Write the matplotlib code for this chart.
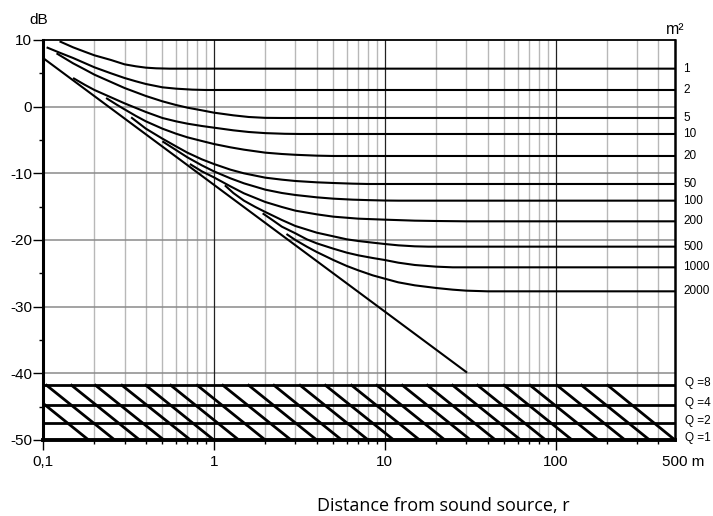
import matplotlib
matplotlib.use('Agg')
import matplotlib.pyplot as plt
from matplotlib.ticker import FixedLocator, NullFormatter

plt.rcParams['font.family'] = ['Liberation Sans', 'DejaVu Sans']
plt.rcParams['axes.unicode_minus'] = False

# room constant curves (m2): distance r in m, level in dB
r_1 = [0.125, 0.15, 0.175, 0.2, 0.25, 0.3, 0.35, 0.4, 0.46, 0.55, 500]
db_1 = [9.8, 8.9, 8.25, 7.7, 7.0, 6.35, 6.05, 5.85, 5.75, 5.7, 5.7]
r_2 = [0.105, 0.125, 0.15, 0.175, 0.2, 0.25, 0.3, 0.35, 0.4, 0.5, 0.6, 0.75, 0.9, 500]
db_2 = [8.9, 8.1, 7.3, 6.55, 5.9, 5.0, 4.3, 3.8, 3.4, 2.9, 2.7, 2.55, 2.5, 2.5]
r_5 = [0.12, 0.15, 0.175, 0.2, 0.25, 0.3, 0.4, 0.5, 0.6, 0.7, 0.85, 1.0, 1.3, 1.6, 2.0, 2.5, 500]
db_5 = [8.0, 6.5, 5.6, 4.8, 3.7, 2.8, 1.6, 0.8, 0.25, -0.15, -0.55, -0.9, -1.3, -1.55, -1.68, -1.7, -1.7]
r_10 = [0.15, 0.175, 0.2, 0.25, 0.3, 0.4, 0.5, 0.6, 0.7, 0.85, 1.0, 1.3, 1.6, 2.0, 2.6, 3.2, 500]
db_10 = [4.3, 3.3, 2.5, 1.4, 0.5, -0.8, -1.7, -2.2, -2.55, -2.9, -3.15, -3.55, -3.8, -3.97, -4.07, -4.1, -4.1]
r_20 = [0.234, 0.27, 0.3, 0.35, 0.4, 0.5, 0.6, 0.7, 0.85, 1.0, 1.25, 1.5, 2.0, 2.5, 3.0, 4.0, 5.0, 500]
db_20 = [1.3, 0.3, -0.4, -1.4, -2.2, -3.3, -4.05, -4.6, -5.15, -5.6, -6.1, -6.45, -6.9, -7.1, -7.22, -7.35, -7.4, -7.4]
r_50 = [0.328, 0.4, 0.5, 0.6, 0.7, 0.85, 1.0, 1.25, 1.5, 2.0, 2.5, 3.0, 4.0, 5.0, 6.5, 8.0, 500]
db_50 = [-1.6, -3.3, -4.8, -5.95, -6.9, -7.9, -8.6, -9.45, -10.0, -10.65, -10.95, -11.15, -11.35, -11.45, -11.55, -11.6, -11.6]
r_100 = [0.5, 0.6, 0.7, 0.85, 1.0, 1.25, 1.5, 2.0, 2.5, 3.0, 4.0, 5.0, 6.5, 8.0, 10, 12, 500]
db_100 = [-5.2, -6.5, -7.6, -8.8, -9.7, -10.75, -11.5, -12.45, -12.95, -13.25, -13.6, -13.8, -13.95, -14.02, -14.08, -14.1, -14.1]
r_200 = [0.724, 0.85, 1.0, 1.25, 1.5, 2.0, 2.5, 3.0, 4.0, 5.0, 7.0, 10, 15, 20, 30, 500]
db_200 = [-8.6, -9.7, -10.6, -11.95, -13.0, -14.3, -15.05, -15.6, -16.15, -16.5, -16.8, -16.95, -17.1, -17.15, -17.2, -17.2]
r_500 = [1.16, 1.3, 1.5, 1.75, 2.0, 2.5, 3.0, 4.0, 5.0, 6.0, 7.0, 8.5, 10, 12, 15, 18, 500]
db_500 = [-11.8, -12.95, -14.1, -15.05, -15.8, -17.0, -17.9, -18.9, -19.45, -19.9, -20.15, -20.4, -20.6, -20.8, -20.95, -21.0, -21.0]
r_1000 = [1.93, 2.2, 2.5, 3.0, 3.5, 4.0, 5.0, 6.0, 7.0, 8.5, 10, 12, 15, 20, 25, 500]
db_1000 = [-16.0, -17.0, -18.0, -19.0, -19.9, -20.5, -21.3, -21.9, -22.3, -22.7, -23.0, -23.4, -23.75, -24.0, -24.1, -24.1]
r_2000 = [2.66, 3.0, 3.5, 4.0, 5.0, 6.0, 7.0, 8.5, 10, 12, 15, 20, 25, 30, 40, 500]
db_2000 = [-19.1, -20.0, -21.0, -21.8, -23.0, -23.9, -24.55, -25.3, -25.8, -26.35, -26.8, -27.2, -27.45, -27.6, -27.7, -27.7]
room_labels = ['1', '2', '5', '10', '20', '50', '100', '200', '500', '1000', '2000']

# direct field line
r_direct = [0.1, 30]
db_direct = [7.3, -39.8]

# directivity band at the bottom
q_labels = ['Q =8', 'Q =4', 'Q =2', 'Q =1']
q_db = [-41.8, -44.7, -47.4, -50.0]
hatch_top = [0.074, 0.105, 0.147, 0.203, 0.29, 0.40, 0.56, 0.80, 1.13, 1.6, 2.25,
             3.2, 4.5, 6.4, 9.0, 12.7, 17.8, 25, 35, 50, 71, 102, 142, 202]
hatch_bottom = [0.185, 0.263, 0.368, 0.51, 0.73, 1.0, 1.4, 2.0, 2.83, 4.0, 5.6,
                8.0, 11.3, 16, 22.5, 31.8, 44.5, 62.5, 87.5, 125, 178, 255, 355, 500]

xtick_pos = [0.1, 1, 10, 100]
xtick_text = ['0,1', '1', '10', '100']
ytick_pos = [10, 0, -10, -20, -30, -40, -50]

curves = [(r_1, db_1), (r_2, db_2), (r_5, db_5), (r_10, db_10), (r_20, db_20),
          (r_50, db_50), (r_100, db_100), (r_200, db_200), (r_500, db_500),
          (r_1000, db_1000), (r_2000, db_2000)]

fig = plt.figure(figsize=(7.13, 5.16), dpi=100)
ax = fig.add_axes([0.0603, 0.1473, 0.8864, 0.7752])
ax.set_xscale('log')
ax.set_xlim(0.1, 500)
ax.set_ylim(-50, 10)

# grid
minor_pos = [m * d for d in [0.1, 1, 10, 100] for m in range(2, 10) if m * d < 500]
for x in minor_pos:
    ax.axvline(x, color='#b8b8b8', lw=1.0, zorder=1)
for x in [1, 10, 100]:
    ax.axvline(x, color='#222222', lw=0.9, zorder=1.5)
for y in [0, -10, -20, -30, -40]:
    ax.axhline(y, color='#8a8a8a', lw=1.1, zorder=1.2)

# curves
for (r, db) in curves:
    ax.plot(r, db, color='black', lw=1.5, zorder=3, solid_capstyle='butt',
            solid_joinstyle='round')
ax.plot(r_direct, db_direct, color='black', lw=1.5, zorder=3)

# Q band
for y in q_db[:-1]:
    ax.axhline(y, color='black', lw=2.0, zorder=3)
for xt, xb in zip(hatch_top, hatch_bottom):
    ax.plot([xt, xb], [q_db[0], q_db[-1]], color='black', lw=2.0, zorder=3)

# spines and ticks
ax.spines['left'].set_linewidth(2.2)
ax.spines['bottom'].set_linewidth(2.8)
ax.spines['right'].set_linewidth(1.8)
ax.spines['top'].set_linewidth(1.3)
for s in ax.spines.values():
    s.set_zorder(4)

ax.set_yticks(ytick_pos)
ax.set_yticklabels([str(v) for v in ytick_pos], fontsize=11)
ax.yaxis.set_minor_locator(FixedLocator([5, -5, -15, -25, -35, -45]))
ax.tick_params(axis='y', which='major', length=7, width=1.0, pad=1)
ax.tick_params(axis='y', which='minor', length=3, width=1.0)

ax.set_xticks(xtick_pos)
ax.set_xticklabels(xtick_text, fontsize=11)
ax.xaxis.set_minor_locator(FixedLocator(minor_pos))
ax.xaxis.set_minor_formatter(NullFormatter())
ax.tick_params(axis='x', which='major', length=7, width=1.0, pad=4)
ax.tick_params(axis='x', which='minor', length=3, width=1.0)

ax.annotate('500 m', xy=(500, 0), xycoords=('data', 'axes fraction'),
            xytext=(-9.5, -10.5), textcoords='offset points',
            ha='left', va='top', fontsize=11)

# right side labels
for (r, db), lab in zip(curves, room_labels):
    ax.annotate(lab, xy=(1, db[-1]), xycoords=('axes fraction', 'data'),
                xytext=(6, 0), textcoords='offset points',
                ha='left', va='center', fontsize=8.5, annotation_clip=False)
for y, lab in zip(q_db, q_labels):
    ax.annotate(lab, xy=(1, y), xycoords=('axes fraction', 'data'),
                xytext=(7, 1.5), textcoords='offset points',
                ha='left', va='center', fontsize=8.5, annotation_clip=False)

fig.text(39 / 713, 1 - 20 / 516, 'dB', ha='center', va='center', fontsize=11)
fig.text(675 / 713, 1 - 29 / 516, 'm\u00b2', ha='center', va='center', fontsize=11.5)
fig.text(443 / 713, 1 - 506 / 516, 'Distance from sound source, r',
         ha='center', va='center', fontsize=13, family=['Open Sans', 'DejaVu Sans'])

fig.savefig('out.png', dpi=100)
